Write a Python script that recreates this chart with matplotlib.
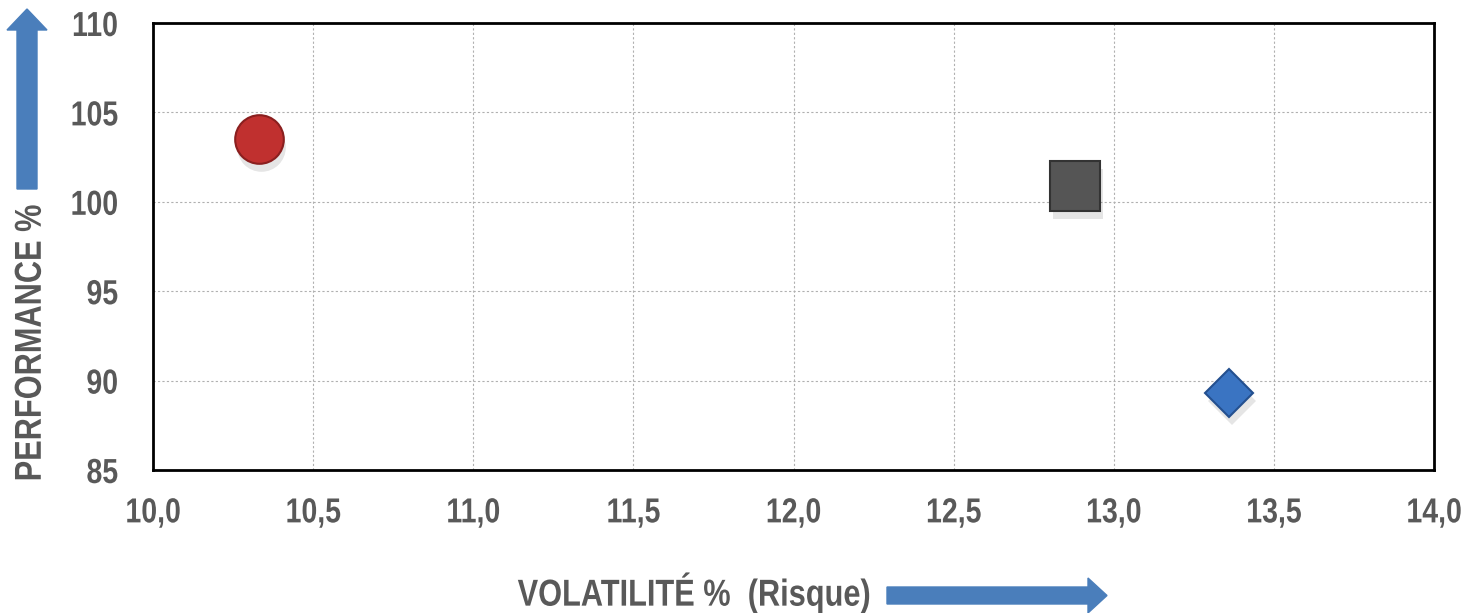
import matplotlib.pyplot as plt
from matplotlib.patches import FancyArrow
from matplotlib.patheffects import AbstractPathEffect
from matplotlib.transforms import Affine2D

# data
volatilite = [10.33, 12.88, 13.36]
performance = [103.5, 100.9, 89.3]
marqueurs = ['o', 's', 'D']
couleurs = ['#c0302f', '#555555', '#3a74c2']
bords = ['#8a1f1f', '#333333', '#24508f']
tailles = [35, 36, 24]

x_ticks = [10.0, 10.5, 11.0, 11.5, 12.0, 12.5, 13.0, 13.5, 14.0]
y_ticks = [85, 90, 95, 100, 105, 110]


class Etroit(AbstractPathEffect):
    # squeeze glyphs sideways, like Arial Narrow
    def __init__(self, sx=0.82, align='center'):
        super().__init__()
        self.sx = sx
        self.align = align

    def draw_path(self, renderer, gc, tpath, affine, rgbFace=None):
        ext = tpath.get_extents()
        pivot = {'left': ext.x0, 'right': ext.x1, 'center': (ext.x0 + ext.x1) / 2}[self.align]
        t = Affine2D().translate(-pivot, 0).scale(self.sx, 1).translate(pivot, 0) + affine
        renderer.draw_path(gc, tpath, t, rgbFace)


plt.rcParams['font.family'] = ['Liberation Sans', 'DejaVu Sans']
gris = '#595959'

fig = plt.figure(figsize=(14.66, 6.13), dpi=100)
ax = fig.add_axes([0.1044, 0.2333, 0.8738, 0.7292])

# shadows then markers
for x, y, m, c, b, s in zip(volatilite, performance, marqueurs, couleurs, bords, tailles):
    ax.plot(x + 0.008, y - 0.45, marker=m, markersize=s, color='#000000', alpha=0.10,
            markeredgewidth=0, zorder=3)
    ax.plot(x, y, marker=m, markersize=s, color=c, markeredgecolor=b,
            markeredgewidth=1.5, zorder=4)

ax.set_xlim(10, 14)
ax.set_ylim(85, 110)
ax.set_xticks(x_ticks)
ax.set_xticklabels([f'{v:.1f}'.replace('.', ',') for v in x_ticks])
ax.set_yticks(y_ticks)
ax.grid(True, color='#b0b0b0', linestyle=(0, (2, 2)), linewidth=0.8)
ax.set_axisbelow(True)
for sp in ax.spines.values():
    sp.set_color('black')
    sp.set_linewidth(2)
ax.tick_params(length=0, labelsize=25, labelcolor=gris)
ax.tick_params(axis='x', pad=19)
ax.tick_params(axis='y', pad=25)
for lab in ax.get_xticklabels():
    lab.set_fontweight('bold')
    lab.set_path_effects([Etroit(align='center')])
for lab in ax.get_yticklabels():
    lab.set_fontweight('bold')
    lab.set_path_effects([Etroit(align='right')])

fig.text(0.021, 0.44, 'PERFORMANCE %', rotation=90, ha='center', va='center',
         fontsize=27, fontweight='bold', color=gris, path_effects=[Etroit()])
fig.text(0.4735, 0.012, 'VOLATILITÉ %  (Risque)', ha='center', va='baseline',
         fontsize=27, fontweight='bold', color=gris, path_effects=[Etroit()])

# arrows in pixel coordinates of the figure
fig.patches.append(FancyArrow(27, 613 - 189, 0, 180, width=20, head_width=40,
                              head_length=21, length_includes_head=True,
                              color='#4a7ebb', transform=None, figure=fig))
fig.patches.append(FancyArrow(887, 613 - 595.5, 220, 0, width=17, head_width=35,
                              head_length=19, length_includes_head=True,
                              color='#4a7ebb', transform=None, figure=fig))

fig.savefig('out.png', dpi=100)
